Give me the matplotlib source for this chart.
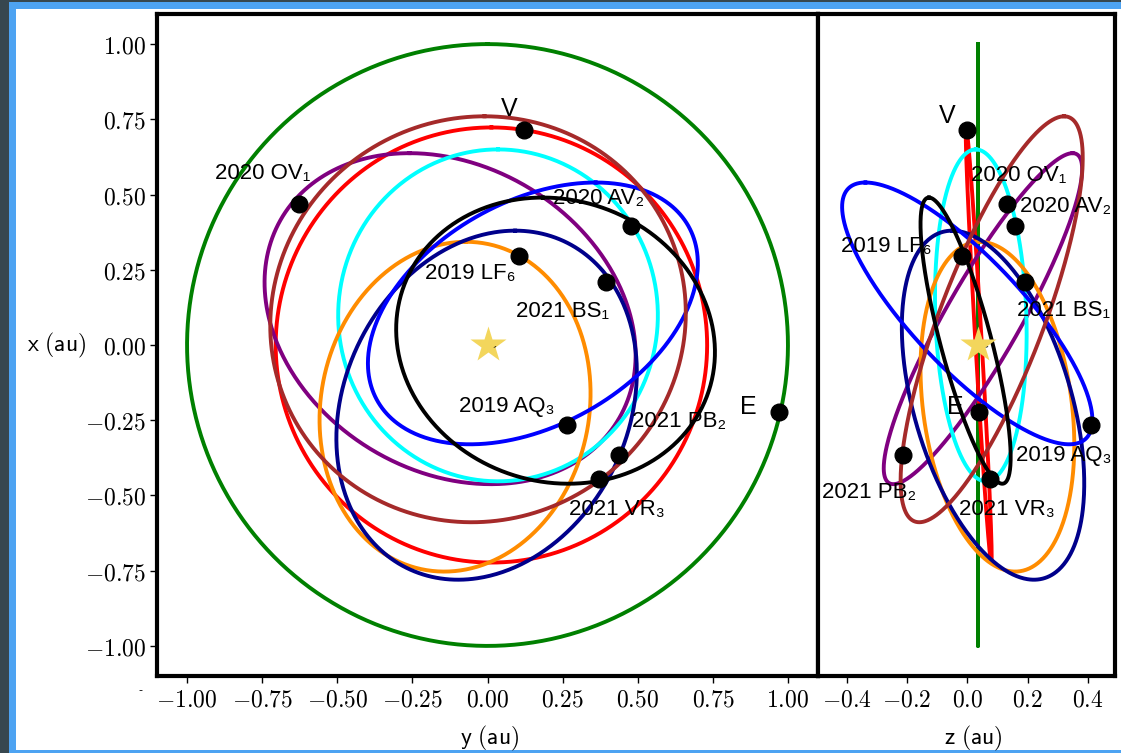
import numpy as np
import matplotlib.pyplot as plt
from matplotlib.patches import Rectangle

plt.rcParams['mathtext.fontset'] = 'cm'

# orbits, one entry per body:
#   x = cx + ax*cos(t), y = cy + ay*cos(t - acos(cy_phase)), z = cz + az*cos(t - acos(cz_phase))
bodies = ['E', 'V', '2020 OV1', '2020 AV2', '2019 LF6', '2021 BS1', '2019 AQ3', '2021 PB2', '2021 VR3']
colors = ['green', 'red', 'purple', 'cyan', 'darkorange', 'darkblue', 'blue', 'brown', 'black']
orb_cx = [0.0, 0.0, 0.0875, 0.0985, -0.205, -0.200, 0.105, 0.0855, 0.0145]
orb_ax = [1.0, 0.723, 0.550, 0.5515, 0.548, 0.580, 0.435, 0.6745, 0.4755]
orb_cy = [0.0, 0.013, -0.1245, 0.035, -0.108, -0.003, 0.151, -0.0315, 0.2265]
orb_ay = [1.0, 0.718, 0.6175, 0.532, 0.451, 0.500, 0.549, 0.6915, 0.5305]
orb_cy_phase = [0.0, 0.0, -0.219, 0.0, 0.08, 0.19, 0.381, 0.031, -0.08]
orb_cz = [0.037, 0.038, 0.052, 0.045, 0.100, 0.0855, 0.0, 0.081, -0.0055]
orb_az = [0.0, 0.043, 0.329, 0.152, 0.255, 0.3025, 0.415, 0.302, 0.1495]
orb_cz_phase = [0.0, -0.97, 0.903, -0.11, -0.23, -0.448, -0.814, 0.795, -0.813]

# current positions (au)
pos_names = ['V', '2020 OV₁', '2020 AV₂', '2019 LF₆', '2021 BS₁', 'E', '2019 AQ₃', '2021 PB₂', '2021 VR₃']
pos_y = [0.122, -0.628, 0.478, 0.104, 0.394, 0.971, 0.263, 0.438, 0.371]
pos_x = [0.713, 0.470, 0.394, 0.297, 0.208, -0.222, -0.267, -0.367, -0.444]
pos_z = [-0.002, 0.133, 0.157, -0.019, 0.190, 0.039, 0.410, -0.214, 0.075]

sun_y, sun_x, sun_z = 0.0, 0.0, 0.036

xy_ticks = [-1.0, -0.75, -0.5, -0.25, 0.0, 0.25, 0.5, 0.75, 1.0]
z_ticks = [-0.4, -0.2, 0.0, 0.2, 0.4]

# where the names go: (y, x) in the left panel, (z, x) in the right one
lab_left = [(0.073, 0.783), (-0.747, 0.57), (0.37, 0.487), (-0.057, 0.237), (0.25, 0.11),
            (0.867, -0.207), (0.063, -0.203), (0.637, -0.253), (0.43, -0.547)]
lab_right = [(-0.068, 0.76), (0.172, 0.563), (0.325, 0.46), (-0.267, 0.327), (0.318, 0.113),
             (-0.038, -0.207), (0.321, -0.367), (-0.327, -0.49), (0.132, -0.547)]

W, H = 1121, 753
fig = plt.figure(figsize=(W/100, H/100), dpi=100, facecolor='#37474f')
fig.add_artist(Rectangle((9/W, 0), 1 - 9/W, 751/H, transform=fig.transFigure,
                         facecolor='#4da3f2', edgecolor='none', zorder=-3))
fig.add_artist(Rectangle((16/W, 3/H), 1 - 16/W, 741/H, transform=fig.transFigure,
                         facecolor='white', edgecolor='none', zorder=-2))

ax1 = fig.add_axes([157/W, 1 - 676/H, 661/W, 662/H])
ax2 = fig.add_axes([818/W, 1 - 676/H, 297/W, 662/H])

t = np.linspace(0, 2*np.pi, 600)
for i in range(len(bodies)):
    x = orb_cx[i] + orb_ax[i]*np.cos(t)
    y = orb_cy[i] + orb_ay[i]*np.cos(t - np.arccos(orb_cy_phase[i]))
    z = orb_cz[i] + orb_az[i]*np.cos(t - np.arccos(orb_cz_phase[i]))
    ax1.plot(y, x, color=colors[i], lw=2.8, zorder=2)
    ax2.plot(z, x, color=colors[i], lw=2.8, zorder=2)

ax1.plot(sun_y, sun_x, marker='*', ms=27, color='#f3d65c', mec='none', zorder=3)
ax2.plot(sun_z, sun_x, marker='*', ms=27, color='#f3d65c', mec='none', zorder=3)
ax1.text(sun_y + 0.025, sun_x - 0.005, '-', fontsize=7, rotation=25, ha='center', va='center', zorder=4)
ax2.text(sun_z + 0.03, sun_x - 0.005, '-', fontsize=7, rotation=25, ha='center', va='center', zorder=4)

ax1.plot(pos_y, pos_x, 'o', color='black', ms=12, zorder=5)
ax2.plot(pos_z, pos_x, 'o', color='black', ms=12, zorder=5)

lab_font = ['Liberation Sans', 'DejaVu Sans']
for i, name in enumerate(pos_names):
    fs = 18 if len(name) == 1 else 16
    ax1.text(*lab_left[i], name, fontsize=fs, family=lab_font, ha='center', va='center', zorder=6)
    ax2.text(*lab_right[i], name, fontsize=fs, family=lab_font, ha='center', va='center', zorder=6)

ax1.set_xlim(-1.1, 1.1)
ax1.set_ylim(-1.1, 1.1)
ax2.set_xlim(-0.495, 0.49)
ax2.set_ylim(-1.1, 1.1)

ax1.set_xticks(xy_ticks)
ax1.set_xticklabels([f'${v:.2f}$' for v in xy_ticks])
ax1.set_yticks(xy_ticks)
ax1.set_yticklabels([f'${v:.2f}$' for v in xy_ticks])
ax2.set_xticks(z_ticks)
ax2.set_xticklabels([f'${v:.1f}$' for v in z_ticks])
ax2.set_yticks([])

for ax in (ax1, ax2):
    for s in ax.spines.values():
        s.set_linewidth(3)
    ax.tick_params(direction='out', length=5, width=1, labelsize=17, pad=3)
    ax.set_facecolor('white')

ax1.set_xlabel(r'$\mathsf{y\ (au)}$', fontsize=17, va='center')
ax1.xaxis.set_label_coords(0.503, -0.094)
ax2.set_xlabel(r'$\mathsf{z\ (au)}$', fontsize=17, va='center')
ax2.xaxis.set_label_coords(0.522, -0.094)
ax1.set_ylabel(r'$\mathsf{x\ (au)}$', fontsize=17, rotation=0, va='center', ha='center')
ax1.yaxis.set_label_coords(-0.152, 0.5)

fig.text(140/W, 1 - 690/H, '-', fontsize=8, ha='center', va='center')

fig.savefig('out.png', dpi=100, facecolor=fig.get_facecolor())
